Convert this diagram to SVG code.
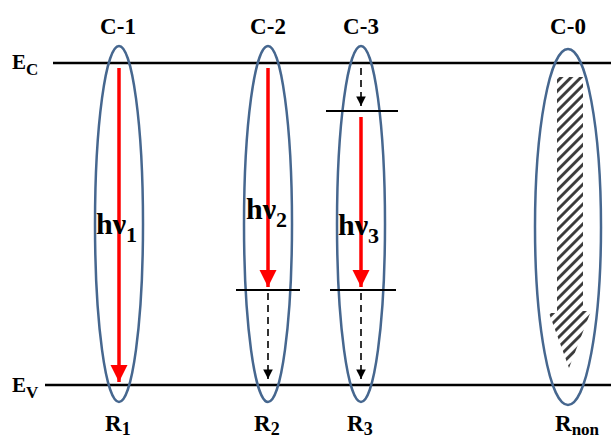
<svg xmlns="http://www.w3.org/2000/svg" width="611" height="441" viewBox="0 0 611 441">
<style>
.lbl{font-family:"Liberation Serif","Times New Roman",serif;font-weight:bold;fill:#000}
.band{stroke:#000;stroke-width:2.5}
.lvl{stroke:#000;stroke-width:2}
.ell{fill:none;stroke:#46678f;stroke-width:2.5}
.red{stroke:#ff0000;stroke-width:3.5}
.dash{stroke:#000;stroke-width:1.6;stroke-dasharray:7,5}
</style>
<defs>
<marker id="ar" viewBox="0 0 10 10" refX="10" refY="5" markerWidth="5" markerHeight="5" markerUnits="strokeWidth" orient="auto"><path d="M0,0 L10,5 L0,10 Z" fill="#ff0000"/></marker>
<marker id="ak" viewBox="0 0 10 10" refX="10" refY="5" markerWidth="6" markerHeight="6" markerUnits="strokeWidth" orient="auto"><path d="M0,0 L10,5 L0,10 Z" fill="#000"/></marker>
<pattern id="hatch" patternUnits="userSpaceOnUse" width="7" height="7" patternTransform="rotate(-45)"><line x1="0" y1="3.5" x2="7" y2="3.5" stroke="#333" stroke-width="2.8"/></pattern>
</defs>
<g id="bands">
<line class="band" x1="53" y1="63" x2="611" y2="63"/>
<line class="band" x1="45" y1="385" x2="611" y2="385"/>
<text class="lbl" x="12" y="69" font-size="21">E<tspan font-size="17" dy="6">C</tspan></text>
<text class="lbl" x="12" y="392" font-size="21">E<tspan font-size="17" dy="6">V</tspan></text>
</g>
<g id="connectors">
<line class="red" x1="119" y1="68" x2="119" y2="382" marker-end="url(#ar)"/>
<line class="red" x1="268" y1="68" x2="268" y2="287" marker-end="url(#ar)"/>
<line class="dash" x1="268" y1="293" x2="268" y2="379" marker-end="url(#ak)"/>
<line class="dash" x1="361" y1="68" x2="361" y2="106" marker-end="url(#ak)"/>
<line class="red" x1="361" y1="117" x2="361" y2="287" marker-end="url(#ar)"/>
<line class="dash" x1="361" y1="293" x2="361" y2="379" marker-end="url(#ak)"/>
</g>
<g id="C-1">
<ellipse class="ell" cx="119" cy="224" rx="24" ry="178"/>
<text class="lbl" x="118" y="34" font-size="23" text-anchor="middle">C-1</text>
<text class="lbl" x="96" y="234" font-size="30">hν<tspan font-size="22" dy="8">1</tspan></text>
<text class="lbl" x="105" y="431" font-size="23">R<tspan font-size="18" dy="4">1</tspan></text>
</g>
<g id="C-2">
<ellipse class="ell" cx="268" cy="224" rx="24" ry="178"/>
<line class="lvl" x1="236" y1="290" x2="300" y2="290"/>
<text class="lbl" x="268" y="34" font-size="23" text-anchor="middle">C-2</text>
<text class="lbl" x="246" y="219" font-size="30">hν<tspan font-size="22" dy="8">2</tspan></text>
<text class="lbl" x="254" y="431" font-size="23">R<tspan font-size="18" dy="4">2</tspan></text>
</g>
<g id="C-3">
<ellipse class="ell" cx="361" cy="224" rx="24" ry="178"/>
<line class="lvl" x1="326" y1="111" x2="398" y2="111"/>
<line class="lvl" x1="330" y1="290" x2="396" y2="290"/>
<text class="lbl" x="361" y="34" font-size="23" text-anchor="middle">C-3</text>
<text class="lbl" x="338" y="235" font-size="30">hν<tspan font-size="22" dy="8">3</tspan></text>
<text class="lbl" x="347" y="431" font-size="23">R<tspan font-size="18" dy="4">3</tspan></text>
</g>
<g id="C-0">
<ellipse class="ell" cx="568" cy="227" rx="33" ry="178"/>
<path d="M557,77 L583,77 L583,311 L591,311 L569,368 L549,313 L557,313 Z" fill="url(#hatch)"/>
<text class="lbl" x="568" y="34" font-size="23" text-anchor="middle">C-0</text>
<text class="lbl" x="555" y="431" font-size="23">R<tspan font-size="17" dy="4">non</tspan></text>
</g>
</svg>
